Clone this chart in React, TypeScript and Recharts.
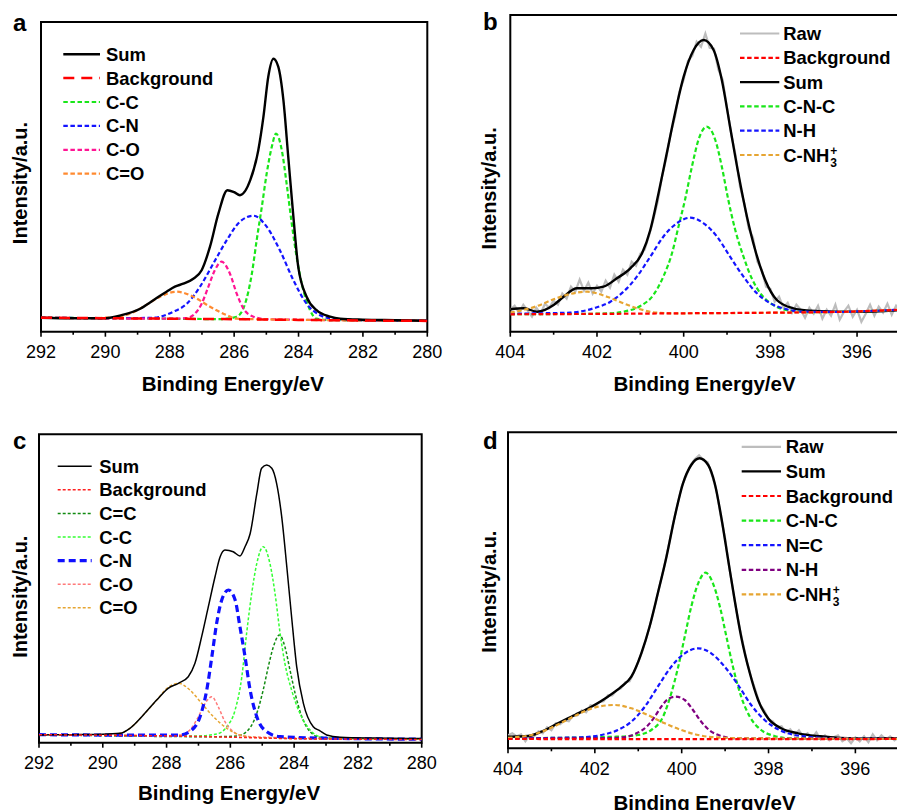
import React from 'react';
import { LineChart, Line, XAxis, YAxis, ReferenceArea, Legend } from 'recharts';

type P = [number, number];

// ---------- Panel a : C 1s ----------
const aTicks = [280, 281, 282, 283, 284, 285, 286, 287, 288, 289, 290, 291, 292];
const aBackground: P[] = [[292, 14], [290, 13.5], [288, 13], [286, 12.5], [284, 11.8], [282, 11.2], [280, 10.8]];
const aSum: P[] = [[292, 14], [291, 13.5], [290, 13.5], [289.5, 16.5], [288.92, 23], [288.51, 31.5], [288.1, 40], [287.84, 45], [287.58, 48], [287.27, 53], [287.01, 61.5], [286.75, 85], [286.49, 118], [286.21, 141.5], [286.0, 139.5], [285.82, 136.5], [285.5, 151.5], [285.25, 181.5], [285.09, 215], [284.94, 255], [284.78, 273], [284.63, 265], [284.47, 231.5], [284.32, 175], [284.16, 115], [284.01, 65], [283.75, 35], [283.44, 21.5], [283.02, 15], [282.71, 13], [282, 12], [281, 11.5], [280, 11]];
const aCC: P[] = [[292, 14], [288, 13], [286.4, 12.6], [285.92, 15], [285.66, 28], [285.45, 58], [285.3, 91.5], [285.14, 125], [284.99, 158], [284.83, 185], [284.7, 198], [284.52, 181.5], [284.37, 148], [284.21, 108], [284.06, 75], [283.85, 41.5], [283.64, 21.5], [283.45, 13], [283.0, 11.6], [280, 10.9]];
const aCN: P[] = [[292, 14], [289.5, 13.5], [288.51, 14], [287.89, 20], [287.47, 28], [287.06, 45], [286.65, 68], [286.23, 91.5], [285.82, 110], [285.4, 116], [284.99, 105], [284.58, 81.5], [284.16, 51.5], [283.75, 28], [283.33, 16.5], [282.92, 13], [282, 11.5], [280, 11]];
const aCO: P[] = [[292, 14], [288, 13], [287.5, 13.5], [287.27, 16.5], [287.01, 28], [286.8, 45], [286.6, 61.5], [286.39, 70], [286.13, 58], [285.92, 38], [285.71, 23], [285.4, 15], [285, 12.5], [280, 11]];
const aCdO: P[] = [[292, 14], [290.5, 13.5], [290, 14], [289.76, 14.5], [289.24, 18], [288.82, 25], [288.3, 35], [287.79, 40], [287.27, 35], [286.75, 25], [286.23, 16.5], [285.92, 13], [285, 12.3], [280, 11]];

// ---------- Panel b : N 1s ----------
const bTicks = [396, 397, 398, 399, 400, 401, 402, 403, 404];
const bBackground: P[] = [[404, 17.4], [402, 17.8], [400, 18.4], [398, 19], [397, 19.4], [396, 20.3], [395, 22]];
const bSum: P[] = [[404, 22.4], [403.69, 23.4], [403.38, 20], [403.0, 26.7], [402.77, 35], [402.46, 43.4], [402.12, 43.4], [401.85, 45], [401.54, 53.4], [401.23, 63.4], [400.96, 78.4], [400.77, 101.7], [400.58, 138.4], [400.39, 178.4], [400.2, 218.4], [400.0, 255], [399.77, 281.7], [399.54, 291.7], [399.31, 281.7], [399.12, 251.7], [398.93, 205], [398.74, 158.4], [398.54, 115], [398.35, 81.7], [398.12, 51.7], [397.85, 31.7], [397.47, 23.4], [397.08, 21], [396.5, 20], [396, 19.8], [395, 21.5]];
const bCNC: P[] = [[404, 17.5], [402, 18], [401.69, 18.4], [401.39, 20], [401.0, 25.7], [400.7, 36.7], [400.47, 55], [400.27, 78.4], [400.12, 105], [399.97, 131.7], [399.81, 165], [399.66, 191.7], [399.47, 205], [399.27, 191.7], [399.12, 165], [398.97, 131.7], [398.81, 101.7], [398.62, 75], [398.43, 53.4], [398.2, 36.7], [397.93, 26.7], [397.54, 21], [397, 19.6], [396, 20.3], [395, 22]];
const bNH: P[] = [[404, 17.8], [403.2, 18.5], [402.62, 19], [402.08, 23.4], [401.69, 30], [401.39, 40], [401.08, 55], [400.77, 75], [400.47, 95], [400.16, 108.4], [399.85, 114], [399.54, 108.4], [399.23, 95], [398.93, 75], [398.62, 55], [398.31, 38.4], [398.0, 28.4], [397.62, 22.4], [397.24, 20], [396.5, 19.8], [396, 20.3], [395, 22]];
const bCNH3: P[] = [[404, 19], [403.77, 21], [403.38, 25.7], [403.0, 32.4], [402.62, 37.7], [402.23, 40], [401.77, 35], [401.39, 28.4], [401.0, 22.4], [400.62, 19], [400.2, 18.4], [398, 19], [396, 20.3], [395, 22]];
const bRaw: P[] = [[404.0, 22], [403.9, 26], [403.8, 19], [403.7, 27], [403.6, 21], [403.5, 15], [403.4, 24], [403.3, 18], [403.2, 28], [403.1, 24], [403.0, 31], [402.9, 27], [402.8, 38], [402.7, 33], [402.6, 45], [402.5, 40], [402.4, 52], [402.3, 41], [402.2, 49], [402.1, 38], [402.0, 46], [401.9, 40], [401.8, 51], [401.7, 44], [401.6, 57], [401.5, 50], [401.4, 62], [401.3, 57], [401.2, 70], [401.1, 66], [401.0, 78], [400.9, 82], [400.8, 96], [400.7, 112], [400.6, 130], [400.5, 155], [400.4, 174], [400.3, 198], [400.2, 215], [400.1, 240], [400.0, 252], [399.9, 271], [399.8, 276], [399.7, 290], [399.6, 285], [399.5, 298], [399.4, 284], [399.3, 283], [399.2, 262], [399.1, 252], [399.0, 224], [398.9, 197], [398.8, 176], [398.7, 145], [398.6, 128], [398.5, 103], [398.4, 94], [398.3, 70], [398.2, 62], [398.1, 45], [398.0, 43], [397.9, 30], [397.8, 35], [397.7, 24], [397.6, 29], [397.5, 19], [397.4, 27], [397.3, 22], [397.2, 14], [397.1, 24], [397.0, 18], [396.9, 26], [396.8, 13], [396.7, 22], [396.6, 16], [396.5, 27], [396.4, 12], [396.3, 20], [396.2, 26], [396.1, 15], [396.0, 22], [395.9, 10], [395.8, 18], [395.7, 27], [395.6, 16], [395.5, 25], [395.4, 19], [395.3, 28], [395.2, 17], [395.1, 26], [395.0, 21]];

// ---------- Panel c : C 1s ----------
const cTicks = [280, 281, 282, 283, 284, 285, 286, 287, 288, 289, 290, 291, 292];
const cBackground: P[] = [[292, 8], [290, 7.5], [288, 6.8], [286, 5.5], [284, 4], [282, 3.5], [280, 3.2]];
const cSum: P[] = [[292, 7.7], [291, 8], [290, 8.4], [289.46, 9.4], [289.15, 14.4], [288.73, 27.7], [288.31, 42.7], [287.95, 54.4], [287.63, 59.4], [287.32, 66], [287.11, 79.4], [286.9, 106], [286.69, 136], [286.48, 166], [286.32, 186], [286.17, 192.7], [285.91, 191], [285.7, 186.7], [285.54, 196], [285.38, 209], [285.17, 249], [285.02, 274.4], [284.86, 277.7], [284.7, 274.4], [284.55, 259.4], [284.39, 226], [284.23, 176], [284.08, 126], [283.92, 76], [283.71, 39.4], [283.4, 16], [283.2, 12], [282.98, 7.7], [282.56, 5.4], [281.5, 4.6], [280, 4.2]];
const cCdC: P[] = [[292, 8], [286.5, 6], [285.8, 6.7], [285.44, 12.7], [285.17, 29.4], [284.97, 52.7], [284.81, 76], [284.65, 96], [284.46, 107.7], [284.29, 96], [284.13, 72.7], [283.97, 49.4], [283.76, 26], [283.5, 11], [283.19, 5.4], [282.5, 4.2], [280, 3.5]];
const cCC: P[] = [[292, 8], [287, 6.8], [286.43, 8.7], [286.11, 16], [285.85, 32.7], [285.64, 66], [285.49, 109.4], [285.33, 149.4], [285.17, 179.4], [284.97, 196], [284.76, 179.4], [284.6, 149.4], [284.44, 109.4], [284.29, 79.4], [284.08, 52.7], [283.82, 29.4], [283.5, 12.7], [283.19, 6], [282.5, 4.2], [280, 3.5]];
const cCN: P[] = [[292, 8], [288, 7.5], [287.58, 7.7], [287.21, 12.7], [286.95, 26], [286.74, 52.7], [286.58, 86], [286.43, 119.4], [286.27, 142.7], [286.06, 152.7], [285.85, 142.7], [285.7, 116], [285.54, 86], [285.38, 52.7], [285.17, 26], [284.86, 11], [284.44, 6], [283, 4.5], [280, 3.5]];
const cCO: P[] = [[292, 8], [288, 7], [287.58, 7.7], [287.27, 12.7], [287.0, 26], [286.79, 39.4], [286.58, 46], [286.38, 36], [286.17, 21], [285.91, 11], [285.59, 6.7], [285, 5.5], [280, 3.5]];
const cCdO: P[] = [[292, 8], [290, 8], [289.46, 9.4], [289.15, 14.4], [288.73, 27.7], [288.31, 42.7], [287.95, 55.4], [287.63, 59.4], [287.27, 52.7], [286.9, 39.4], [286.53, 26], [286.11, 14.4], [285.7, 7.7], [285.27, 5.4], [284, 4.2], [280, 3.5]];

// ---------- Panel d : N 1s ----------
const dTicks = [396, 397, 398, 399, 400, 401, 402, 403, 404];
const dBackground: P[] = [[404, 9.3], [400, 9.2], [396, 9.2], [395, 9.4]];
const dSum: P[] = [[404, 11.6], [403.54, 12.3], [403.23, 16.6], [402.85, 25], [402.46, 33.3], [402.08, 41.6], [401.7, 51.6], [401.39, 61.6], [401.16, 71.6], [400.93, 95], [400.74, 121.6], [400.55, 155], [400.35, 191.6], [400.16, 231.6], [399.97, 265], [399.78, 283.3], [399.59, 290], [399.39, 283.3], [399.24, 265], [399.09, 231.6], [398.93, 188.3], [398.78, 148.3], [398.63, 111.6], [398.43, 75], [398.24, 48.3], [398.01, 30], [397.71, 20], [397.32, 15], [396.8, 12], [396, 9.8], [395, 10]];
const dCNC: P[] = [[404, 10], [401.5, 11.6], [401.01, 13.3], [400.7, 18.3], [400.43, 31.6], [400.24, 55], [400.08, 81.6], [399.93, 111.6], [399.78, 141.6], [399.62, 165], [399.45, 175.6], [399.28, 165], [399.12, 141.6], [398.97, 111.6], [398.82, 81.6], [398.63, 51.6], [398.43, 31.6], [398.17, 18.3], [397.86, 12.3], [397.5, 10], [395, 9.5]];
const dNC: P[] = [[404, 10], [402.8, 10.5], [402.31, 11], [401.85, 13.3], [401.47, 18.3], [401.16, 26.6], [400.85, 41.6], [400.55, 61.6], [400.24, 81.6], [399.93, 95], [399.62, 100], [399.32, 95], [399.01, 81.6], [398.7, 63.3], [398.4, 43.3], [398.09, 28.3], [397.78, 19], [397.4, 13.3], [397.1, 11.6], [396.5, 10], [395, 9.5]];
const dNH: P[] = [[404, 10], [401.7, 10.3], [401.35, 11], [401.04, 15], [400.81, 21.6], [400.62, 31.6], [400.47, 41.6], [400.32, 49], [400.14, 51.6], [399.93, 48.3], [399.74, 38.3], [399.55, 26.6], [399.35, 17.6], [399.09, 12.3], [398.78, 10], [395, 9.5]];
const dCNH3: P[] = [[404, 10.5], [403.85, 11], [403.46, 13.3], [403.08, 19], [402.69, 27.3], [402.31, 35.6], [401.93, 41.6], [401.54, 43.3], [401.16, 40], [400.78, 33.3], [400.39, 25], [400.01, 18.3], [399.62, 13.3], [399.24, 11], [398.5, 10], [395, 9.5]];
const dRaw: P[] = [[404.0, 13], [403.9, 15], [403.8, 12], [403.7, 14], [403.6, 7], [403.5, 13], [403.4, 12], [403.3, 17], [403.2, 15], [403.1, 21], [403.0, 18], [402.9, 25], [402.8, 24], [402.7, 28], [402.6, 27], [402.5, 33], [402.4, 33], [402.3, 38], [402.2, 36], [402.1, 43], [402.0, 42], [401.9, 46], [401.8, 47], [401.7, 53], [401.6, 53], [401.5, 58], [401.4, 60], [401.3, 66], [401.2, 67], [401.1, 76], [401.0, 86], [400.9, 98], [400.8, 112], [400.7, 128], [400.6, 145], [400.5, 164], [400.4, 182], [400.3, 203], [400.2, 224], [400.1, 243], [400.0, 262], [399.9, 272], [399.8, 283], [399.7, 289], [399.6, 293], [399.5, 288], [399.4, 286], [399.3, 273], [399.2, 258], [399.1, 232], [399.0, 210], [398.9, 180], [398.8, 153], [398.7, 128], [398.6, 107], [398.5, 87], [398.4, 71], [398.3, 58], [398.2, 44], [398.1, 38], [398.0, 29], [397.9, 27], [397.8, 21], [397.7, 22], [397.6, 16], [397.5, 19], [397.4, 13], [397.3, 18], [397.2, 12], [397.1, 15], [397.0, 10], [396.9, 16], [396.8, 9], [396.7, 13], [396.6, 8], [396.5, 11], [396.4, 13], [396.3, 7], [396.2, 10], [396.1, 5], [396.0, 11], [395.9, 7], [395.8, 12], [395.7, 6], [395.6, 14], [395.5, 8], [395.4, 13], [395.3, 9], [395.2, 12], [395.1, 8], [395.0, 11]];

// ---------- styling ----------
const FONT = '"Liberation Sans", Arial, Helvetica, sans-serif';

type Sty = { color: string; width: number; dash?: string };
type Series = { label: string; data: P[]; sty: Sty; linear?: boolean };
type LegItem = { label: string; sty: Sty; nh3?: boolean };

const SUMA: Sty = { color: '#000', width: 2.4 };
const SUMC: Sty = { color: '#000', width: 1.5 };
const RAW: Sty = { color: '#bdbdbd', width: 2.2 };
const BG_A: Sty = { color: '#ff0000', width: 2.5, dash: '11 7' };
const dash2 = '4.5 2.6';
const st = (color: string, width = 2.2, dash = dash2): Sty => ({ color, width, dash });

const aStyles = { cc: st('#19e619'), cn: st('#1414ff'), co: st('#ff1493'), cdo: st('#ff8a30') };
const bStyles = { bg: st('#ff0000'), cnc: st('#19e619'), nh: st('#1414ff'), cnh: st('#e6a532') };
const cStyles = {
  bg: st('#ff2020', 1.5, '3 2'), cdc: st('#118a11', 1.5, '3 2'), cc: st('#33ff33', 1.5, '3 2'),
  cn: st('#1010ff', 3.2, '7 4'), co: st('#ff7a7a', 1.5, '3 2'), cdo: st('#e6a532', 1.5, '3 2'),
};
const dStyles = { bg: st('#ff0000'), cnc: st('#19e619'), nc: st('#1414ff'), nh: st('#800080'), cnh: st('#e6a532') };

const rows = (d: P[]) => d.map(([x, y]) => ({ x, y }));

const Tick = (props: any) => {
  const { x, y, payload } = props;
  const v = payload.value as number;
  const major = v % 2 === 0;
  return (
    <g>
      <line x1={x} x2={x} y1={y} y2={y + (major ? 5 : 3)} stroke="#000" strokeWidth={1.6} />
      {major && (
        <text x={x} y={y + 26.5} textAnchor="middle" fontSize={18} fontFamily={FONT} fill="#000">
          {v}
        </text>
      )}
    </g>
  );
};

type LegCfg = { lx0: number; lx1: number; tx: number; base: number; step: number; items: LegItem[] };

function LegendSvg({ cfg, w, h }: { cfg: LegCfg; w: number; h: number }) {
  return (
    <svg width={w} height={h} style={{ position: 'absolute', left: 0, top: 0, overflow: 'visible' }}>
      {cfg.items.map((it, i) => {
        const by = cfg.base + i * cfg.step;
        const ly = by - 6.5;
        return (
          <g key={i}>
            <line x1={cfg.lx0} x2={cfg.lx1} y1={ly} y2={ly} stroke={it.sty.color} strokeWidth={it.sty.width} strokeDasharray={it.sty.dash} />
            <text x={cfg.tx} y={by} fontFamily={FONT} fontWeight="bold" fontSize={18.4} fill="#000">
              {it.label}
              {it.nh3 && (
                <>
                  <tspan fontSize={12} dx={1} dy={-7}>+</tspan>
                  <tspan fontSize={12} dx={-7} dy={12}>3</tspan>
                </>
              )}
            </text>
          </g>
        );
      })}
    </svg>
  );
}

type PanelProps = {
  left: number; top: number; width: number; height: number;
  margin: { top: number; right: number; bottom: number; left: number };
  domain: [number, number]; ticks: number[]; yMax: number; series: Series[]; legend: LegCfg;
};

function Panel({ left, top, width, height, margin, domain, ticks, yMax, series, legend }: PanelProps) {
  return (
    <div style={{ position: 'absolute', left, top }}>
      <LineChart width={width} height={height} margin={margin}>
        <XAxis
          dataKey="x" type="number" domain={domain} reversed ticks={ticks} interval={0}
          tick={<Tick />} tickLine={false} axisLine={false} tickSize={0} tickMargin={0} height={40} allowDataOverflow
        />
        <YAxis type="number" domain={[0, yMax]} hide allowDataOverflow />
        <ReferenceArea x1={domain[0]} x2={domain[1]} y1={0} y2={yMax} fill="none" fillOpacity={0} stroke="#000" strokeWidth={2} ifOverflow="visible" />
        {series.map((s, i) => (
          <Line
            key={i} name={s.label} data={rows(s.data)} dataKey="y" type={s.linear ? 'linear' : 'monotone'}
            stroke={s.sty.color} strokeWidth={s.sty.width} strokeDasharray={s.sty.dash}
            dot={false} activeDot={false} isAnimationActive={false}
          />
        ))}
        <Legend
          layout="horizontal" verticalAlign="middle" align="center"
          wrapperStyle={{ left: 0, top: 0, width, height, pointerEvents: 'none' }}
          content={() => <LegendSvg cfg={legend} w={width} h={height} />}
        />
      </LineChart>
    </div>
  );
}

const nh3Label = 'C-NH';

export default function App() {
  const aSeries: Series[] = [
    { label: 'C-C', data: aCC, sty: aStyles.cc },
    { label: 'C-N', data: aCN, sty: aStyles.cn },
    { label: 'C-O', data: aCO, sty: aStyles.co },
    { label: 'C=O', data: aCdO, sty: aStyles.cdo },
    { label: 'Sum', data: aSum, sty: SUMA },
    { label: 'Background', data: aBackground, sty: BG_A },
  ];
  const aLeg: LegCfg = {
    lx0: 63.3, lx1: 100, tx: 106, base: 60.7, step: 23.9,
    items: [
      { label: 'Sum', sty: SUMA }, { label: 'Background', sty: BG_A }, { label: 'C-C', sty: aStyles.cc },
      { label: 'C-N', sty: aStyles.cn }, { label: 'C-O', sty: aStyles.co }, { label: 'C=O', sty: aStyles.cdo },
    ],
  };

  const bSeries: Series[] = [
    { label: 'Raw', data: bRaw, sty: RAW, linear: true },
    { label: 'Sum', data: bSum, sty: SUMA },
    { label: 'C-N-C', data: bCNC, sty: bStyles.cnc },
    { label: 'N-H', data: bNH, sty: bStyles.nh },
    { label: 'C-NH3+', data: bCNH3, sty: bStyles.cnh },
    { label: 'Background', data: bBackground, sty: bStyles.bg },
  ];
  const bLeg: LegCfg = {
    lx0: 293, lx1: 332.3, tx: 336.3, base: 40, step: 24.3,
    items: [
      { label: 'Raw', sty: RAW }, { label: 'Background', sty: bStyles.bg }, { label: 'Sum', sty: SUMA },
      { label: 'C-N-C', sty: bStyles.cnc }, { label: 'N-H', sty: bStyles.nh }, { label: nh3Label, sty: bStyles.cnh, nh3: true },
    ],
  };

  const cSeries: Series[] = [
    { label: 'C=C', data: cCdC, sty: cStyles.cdc },
    { label: 'C-C', data: cCC, sty: cStyles.cc },
    { label: 'C-O', data: cCO, sty: cStyles.co },
    { label: 'C=O', data: cCdO, sty: cStyles.cdo },
    { label: 'C-N', data: cCN, sty: cStyles.cn },
    { label: 'Sum', data: cSum, sty: SUMC },
    { label: 'Background', data: cBackground, sty: cStyles.bg },
  ];
  const cLeg: LegCfg = {
    lx0: 57.7, lx1: 91.7, tx: 99.3, base: 72.7, step: 23.6,
    items: [
      { label: 'Sum', sty: SUMC }, { label: 'Background', sty: cStyles.bg }, { label: 'C=C', sty: cStyles.cdc },
      { label: 'C-C', sty: cStyles.cc }, { label: 'C-N', sty: cStyles.cn }, { label: 'C-O', sty: cStyles.co },
      { label: 'C=O', sty: cStyles.cdo },
    ],
  };

  const dSeries: Series[] = [
    { label: 'Raw', data: dRaw, sty: RAW, linear: true },
    { label: 'Sum', data: dSum, sty: SUMA },
    { label: 'C-N-C', data: dCNC, sty: dStyles.cnc },
    { label: 'N=C', data: dNC, sty: dStyles.nc },
    { label: 'N-H', data: dNH, sty: dStyles.nh },
    { label: 'C-NH3+', data: dCNH3, sty: dStyles.cnh },
    { label: 'Background', data: dBackground, sty: dStyles.bg },
  ];
  const dLeg: LegCfg = {
    lx0: 294.7, lx1: 334, tx: 338.7, base: 53.3, step: 24.6,
    items: [
      { label: 'Raw', sty: RAW }, { label: 'Sum', sty: SUMA }, { label: 'Background', sty: dStyles.bg },
      { label: 'C-N-C', sty: dStyles.cnc }, { label: 'N=C', sty: dStyles.nc }, { label: 'N-H', sty: dStyles.nh },
      { label: nh3Label, sty: dStyles.cnh, nh3: true },
    ],
  };

  const title = { fontFamily: FONT, fontWeight: 'bold' as const, fill: '#000' };

  return (
    <div style={{ position: 'absolute', left: 0, top: 0, width: 897, height: 810, overflow: 'hidden', background: '#fff' }}>
      <Panel left={0} top={0} width={450} height={400} margin={{ top: 22, right: 22.7, bottom: 28.3, left: 41 }}
        domain={[280, 292]} ticks={aTicks} yMax={309.7} series={aSeries} legend={aLeg} />
      <Panel left={447} top={0} width={460} height={400} margin={{ top: 15, right: 6.6, bottom: 28.3, left: 63.3 }}
        domain={[395, 404]} ticks={bTicks} yMax={316.7} series={bSeries} legend={bLeg} />
      <Panel left={0} top={400} width={450} height={410} margin={{ top: 34.3, right: 28.3, bottom: 27.3, left: 39 }}
        domain={[280, 292]} ticks={cTicks} yMax={308.4} series={cSeries} legend={cLeg} />
      <Panel left={447} top={400} width={460} height={410} margin={{ top: 32.3, right: 8.2, bottom: 21.7, left: 61 }}
        domain={[395, 404]} ticks={dTicks} yMax={316} series={dSeries} legend={dLeg} />
      <svg width={897} height={810} style={{ position: 'absolute', left: 0, top: 0, pointerEvents: 'none' }}>
        <text x={13} y={30.7} fontSize={24} {...title}>a</text>
        <text x={483} y={30} fontSize={24} {...title}>b</text>
        <text x={13} y={449.3} fontSize={24} {...title}>c</text>
        <text x={483} y={449.3} fontSize={24} {...title}>d</text>

        <text x={232.8} y={390.7} fontSize={20.5} textAnchor="middle" {...title}>Binding Energy/eV</text>
        <text x={704.5} y={390.7} fontSize={20.5} textAnchor="middle" {...title}>Binding Energy/eV</text>
        <text x={229} y={800} fontSize={20.5} textAnchor="middle" {...title}>Binding Energy/eV</text>
        <text x={704.5} y={809.7} fontSize={20.5} textAnchor="middle" {...title}>Binding Energy/eV</text>

        <text x={27} y={183} fontSize={20} textAnchor="middle" transform="rotate(-90 27 183)" {...title}>Intensity/a.u.</text>
        <text x={496} y={188.3} fontSize={20} textAnchor="middle" transform="rotate(-90 496 188.3)" {...title}>Intensity/a.u.</text>
        <text x={27.5} y={596.7} fontSize={20} textAnchor="middle" transform="rotate(-90 27.5 596.7)" {...title}>Intensity/a.u.</text>
        <text x={496} y={591.7} fontSize={20} textAnchor="middle" transform="rotate(-90 496 591.7)" {...title}>Intensity/a.u.</text>
      </svg>
    </div>
  );
}
